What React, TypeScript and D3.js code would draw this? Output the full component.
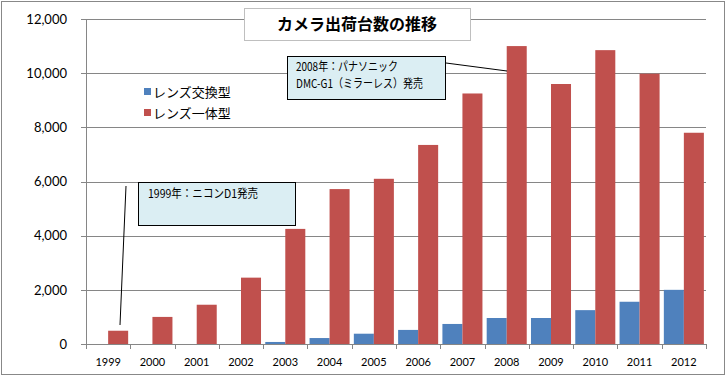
import React from "react";
import * as d3 from "d3";

const years = ["1999","2000","2001","2002","2003","2004","2005","2006","2007","2008","2009","2010","2011","2012"];
const interchangeable = [0, 0, 0, 0, 75, 220, 380, 520, 740, 960, 960, 1250, 1560, 2000];
const integrated = [490, 1000, 1450, 2450, 4250, 5720, 6100, 7350, 9250, 11000, 9600, 10850, 9980, 7800];
const seriesNames = ["レンズ交換型", "レンズ一体型"];
const yTicks = [0, 2000, 4000, 6000, 8000, 10000, 12000];
const title = "カメラ出荷台数の推移";
const note1999 = ["1999年：ニコンD1発売"];
const note2008 = ["2008年：パナソニック", "DMC-G1（ミラーレス）発売"];
const note1999Widths = [110];
const note2008Widths = [102, 127];

const W = 726, H = 376;
const colors = ["#4f81bd", "#c0504d"];
const jp = "'Noto Sans CJK JP', 'Noto Sans', sans-serif";
const num = "Lato, 'Open Sans', sans-serif";

export default function App() {
  const left = 86, right = 706, top = 19, bottom = 344;
  const x = d3.scaleBand().domain(years).range([left, right]).paddingInner(0).paddingOuter(0);
  const y = d3.scaleLinear().domain([0, 12000]).range([bottom, top]);
  const bw = x.bandwidth();
  const barW = bw * 0.452;
  const off = (bw - 2 * barW) / 2;
  const series = [interchangeable, integrated];

  return (
    <svg width={W} height={H} style={{ position: "absolute", left: 0, top: 0, background: "#fff" }}>
      <rect x={1.5} y={1.5} width={W - 3} height={H - 3} fill="#fff" stroke="#888" strokeWidth={1} />
      {yTicks.map((t) => (
        <g key={t}>
          <line x1={left - 5} x2={right} y1={Math.round(y(t)) + 0.5} y2={Math.round(y(t)) + 0.5} stroke="#868686" />
          <text x={67} y={y(t)} dy="0.36em" textAnchor="end" fontFamily={num} fontSize={13} fill="#000">
            {d3.format(",")(t)}
          </text>
        </g>
      ))}
      <line x1={left + 0.5} x2={left + 0.5} y1={top} y2={bottom} stroke="#868686" />
      {years.map((yr) => (
        <line key={yr} x1={Math.round(x(yr)!) + 0.5} x2={Math.round(x(yr)!) + 0.5} y1={bottom} y2={bottom + 5} stroke="#868686" />
      ))}
      <line x1={right + 0.5} x2={right + 0.5} y1={bottom} y2={bottom + 5} stroke="#868686" />
      {series.map((vals, s) =>
        years.map((yr, i) =>
          vals[i] > 0 ? (
            <rect
              key={s + yr}
              x={x(yr)! + off + s * barW}
              y={y(vals[i])}
              width={barW}
              height={bottom - y(vals[i])}
              fill={colors[s]}
            />
          ) : null
        )
      )}
      {years.map((yr) => (
        <text key={yr} x={x(yr)! + bw / 2} y={366} textAnchor="middle" fontFamily={num} fontSize={11} fill="#000">
          {yr}
        </text>
      ))}
      {/* title */}
      <rect x={244.5} y={8.5} width={226} height={32} fill="#fff" stroke="#bfbfbf" />
      <text x={357} y={30} textAnchor="middle" fontFamily={jp} fontSize={16} fontWeight="bold" fill="#000">
        {title}
      </text>
      {/* legend */}
      {seriesNames.map((n, i) => (
        <g key={n}>
          <rect x={144} y={88 + i * 21} width={7} height={7} fill={colors[i]} />
          <text x={153} y={92 + i * 21} dy="0.36em" fontFamily={jp} fontSize={13} fill="#000">{n}</text>
        </g>
      ))}
      {/* annotation 1999 */}
      <line x1={126} y1={186} x2={120} y2={325} stroke="#000" strokeWidth={1} />
      <rect x={138.5} y={182.5} width={157} height={43} fill="#dbeef3" stroke="#000" />
      {note1999.map((t, i) => (
        <text key={i} x={148} y={198 + i * 17} fontFamily={jp} fontSize={12} fill="#000"
          textLength={note1999Widths[i]} lengthAdjust="spacingAndGlyphs">{t}</text>
      ))}
      {/* annotation 2008 */}
      <line x1={446} y1={63} x2={507} y2={71} stroke="#000" strokeWidth={1} />
      <rect x={287.5} y={56.5} width={158} height={43} fill="#dbeef3" stroke="#000" />
      {note2008.map((t, i) => (
        <text key={i} x={296} y={71 + i * 17} fontFamily={jp} fontSize={12} fill="#000"
          textLength={note2008Widths[i]} lengthAdjust="spacingAndGlyphs">{t}</text>
      ))}
    </svg>
  );
}
